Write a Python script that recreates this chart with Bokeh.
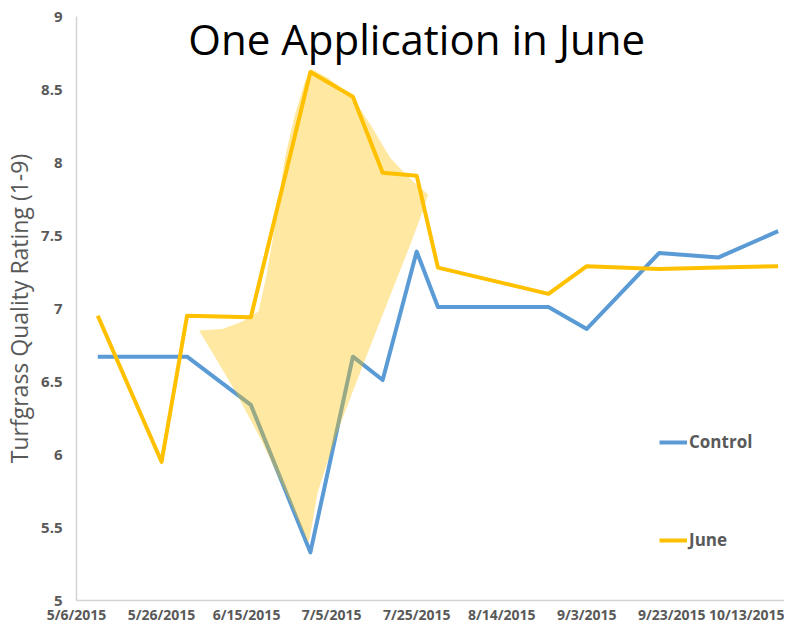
import pandas as pd
from bokeh.plotting import figure
from bokeh.models import (FixedTicker, CustomJSTickFormatter, Legend, LegendItem,
                          Label, Range1d, ColumnDataSource)
from bokeh.embed import file_html
from bokeh.resources import INLINE

# ---------------- data ----------------
title_text = "One Application in June"
y_axis_title = "Turfgrass Quality Rating (1-9)"
series_names = ["Control", "June"]

rating_dates = ["2015-05-11", "2015-05-26", "2015-06-01", "2015-06-16", "2015-06-30",
                "2015-07-10", "2015-07-17", "2015-07-25", "2015-07-30", "2015-08-25",
                "2015-09-03", "2015-09-20", "2015-10-04", "2015-10-18"]
control_values = [6.67, 6.67, 6.67, 6.34, 5.33, 6.67, 6.51, 7.39, 7.01, 7.01,
                  6.86, 7.38, 7.35, 7.53]
june_values = [6.95, 5.95, 6.95, 6.94, 8.62, 8.45, 7.93, 7.91, 7.28, 7.10,
               7.29, 7.27, 7.28, 7.29]

x_tick_labels = ["5/6/2015", "5/26/2015", "6/15/2015", "7/5/2015", "7/25/2015",
                 "8/14/2015", "9/3/2015", "9/23/2015", "10/13/2015"]
y_tick_labels = ["5", "5.5", "6", "6.5", "7", "7.5", "8", "8.5", "9"]

# hand-drawn highlight shape (days after 5/6/2015, rating)
highlight_days = [55.2, 59.1, 64.5, 69.1, 73.8, 78.4, 82.7, 81.6, 78.4, 73.8, 67.6,
                  61.4, 56.7, 54.8, 54.4, 49.8, 43.6, 37.4, 31.9, 28.8, 34.3, 38.9,
                  42.8, 44.7, 46.7, 49.0, 51.3, 53.7]
highlight_values = [8.64, 8.58, 8.46, 8.26, 8.03, 7.89, 7.78, 7.68, 7.43, 7.09, 6.63,
                    6.16, 5.74, 5.42, 5.40, 5.70, 6.09, 6.43, 6.70, 6.85, 6.86, 6.91,
                    6.98, 7.23, 7.57, 8.03, 8.32, 8.55]

# ---------------- derived ----------------
x_ticks = pd.to_datetime(x_tick_labels, format="%m/%d/%Y")
x_tick_ms = [float(t.value // 10**6) for t in x_ticks]
y_tick_vals = [float(v) for v in y_tick_labels]
x0 = x_ticks[0]
x_start = x0
x_end = x0 + pd.Timedelta(days=166.5)

src = ColumnDataSource(dict(date=pd.to_datetime(rating_dates),
                            control=control_values, june=june_values))
hl_x = [x0 + pd.Timedelta(days=d) for d in highlight_days]

FONT = "Open Sans"
GRAY = "#595959"

p = figure(width=784, height=626, x_axis_type="datetime",
           output_backend="svg", toolbar_location=None,
           x_range=Range1d(x_start, x_end), y_range=Range1d(5, 9),
           min_border_left=68, min_border_right=0, min_border_top=16,
           min_border_bottom=20)
p.outline_line_color = None
p.xgrid.grid_line_color = None
p.ygrid.grid_line_color = None
p.background_fill_color = "white"
p.border_fill_color = "white"

r_control = p.line(x="date", y="control", source=src, line_color="#5B9BD5",
                   line_width=4, line_join="round")
p.patch(x=hl_x, y=highlight_values, fill_color="#FFC000", fill_alpha=0.37,
        line_alpha=0)
r_june = p.line(x="date", y="june", source=src, line_color="#FFC000",
                line_width=4, line_join="round")

# axes
lookup_code = """
let best = 0;
for (let i = 0; i < vals.length; i++) {
  if (Math.abs(vals[i] - tick) < Math.abs(vals[best] - tick)) best = i;
}
return labels[best];
"""
p.xaxis.ticker = FixedTicker(ticks=x_tick_ms)
p.xaxis.formatter = CustomJSTickFormatter(args=dict(vals=x_tick_ms, labels=x_tick_labels),
                                          code=lookup_code)
p.yaxis.ticker = FixedTicker(ticks=y_tick_vals)
p.yaxis.formatter = CustomJSTickFormatter(args=dict(vals=y_tick_vals, labels=y_tick_labels),
                                          code=lookup_code)
for ax in (p.xaxis[0], p.yaxis[0]):
    ax.axis_line_color = "#D4D4D4"
    ax.axis_line_width = 1.5
    ax.major_tick_line_color = None
    ax.minor_tick_line_color = None
    ax.major_tick_in = 0
    ax.major_tick_out = 0
    ax.major_label_text_font = FONT
    ax.major_label_text_font_size = "15px"
    ax.major_label_text_font_style = "bold"
    ax.major_label_text_color = GRAY
p.xaxis.major_label_text_font_size = "14px"
p.xaxis.major_label_standoff = 4
p.yaxis.major_label_standoff = 14
p.yaxis.axis_label = y_axis_title
p.yaxis.axis_label_text_font = FONT
p.yaxis.axis_label_text_font_size = "23px"
p.yaxis.axis_label_text_font_style = "normal"
p.yaxis.axis_label_text_color = GRAY
p.yaxis.axis_label_standoff = 3

# title drawn inside the plot area
p.add_layout(Label(x=x0 + pd.Timedelta(days=80), y=8.85, text=title_text,
                   text_align="center", text_baseline="alphabetic",
                   text_font=FONT, text_font_size="42px", text_color="black"))

legend = Legend(items=[LegendItem(label=series_names[0], renderers=[r_control]),
                       LegendItem(label=series_names[1], renderers=[r_june])],
                location=(583, 49), orientation="vertical", spacing=75,
                padding=0, margin=0, glyph_width=28, glyph_height=20,
                label_height=20, label_standoff=2,
                label_text_font=FONT, label_text_font_size="17px",
                label_text_font_style="bold", label_text_color=GRAY,
                background_fill_alpha=0, border_line_alpha=0)
p.add_layout(legend)

open("out.html", "w").write(file_html(p, INLINE))
